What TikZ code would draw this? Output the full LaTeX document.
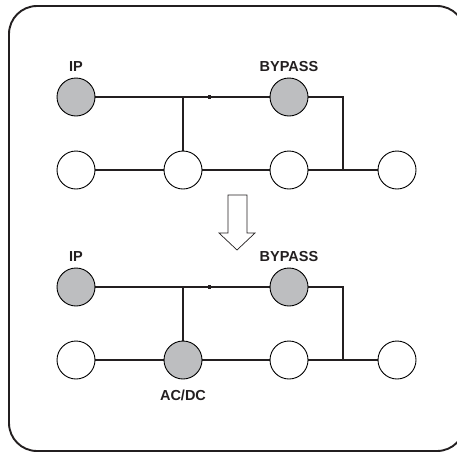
\documentclass[tikz,border=0pt]{standalone}
\usepackage{fontspec}
\setmainfont{Liberation Sans}
\begin{document}
\begin{tikzpicture}[x=1pt,y=-1pt,
  dev/.style={circle,draw=black,line width=0.9pt,minimum size=38pt,inner sep=0pt},
  on/.style={dev,fill=gray0},
  off/.style={dev,fill=white},
  wire/.style={line width=2.6pt,draw=wirecol},
  lbl/.style={font=\fontsize{14.5}{16}\selectfont\bfseries,text=labelcol,inner sep=0pt}]
\definecolor{gray0}{HTML}{BDBEC0}
\definecolor{wirecol}{HTML}{231F20}
\definecolor{labelcol}{HTML}{231F20}
\useasboundingbox (0,0) rectangle (457,453);
\begin{scope}
\clip (0,0) rectangle (457,453);
\draw[line width=1.9pt,draw=wirecol,rounded corners=28pt] (9,6) rectangle (465,451);
\end{scope}
% top diagram
\coordinate (j1) at (183,97);
\coordinate (j2) at (343,97);
\coordinate (j3) at (343,170);
\draw[wire] (76,97) -- (289,97);
\draw[wire] (289,97) -- (j2) -- (j3);
\draw[wire] (76,170) -- (397,170);
\draw[wire] (j1) -- (183,170);
\fill[wirecol] (207.5,95.2) rectangle (211,98.8);
\node[on] (ip1) at (76,97) {};
\node[on] (by1) at (289,97) {};
\node[off] (a1) at (76,170) {};
\node[off] (b1) at (183,170) {};
\node[off] (c1) at (289,170) {};
\node[off] (d1) at (397,170) {};
\node[lbl] (lip1) at (76,67) {IP};
\node[lbl] (lby1) at (289,67) {BYPASS};
% arrow
\draw[line width=0.7pt,draw=wirecol,fill=white,line join=miter]
  (228,195) -- (247,195) -- (247,233) -- (255,233) -- (237,250) -- (219,233) -- (228,233) -- cycle;
% bottom diagram
\coordinate (k1) at (183,287);
\coordinate (k2) at (343,287);
\coordinate (k3) at (343,360);
\draw[wire] (76,287) -- (289,287);
\draw[wire] (289,287) -- (k2) -- (k3);
\draw[wire] (76,360) -- (397,360);
\draw[wire] (k1) -- (183,360);
\fill[wirecol] (207.5,285.2) rectangle (211,288.8);
\node[on] (ip2) at (76,287) {};
\node[on] (by2) at (289,287) {};
\node[off] (a2) at (76,360) {};
\node[on] (b2) at (183,360) {};
\node[off] (c2) at (289,360) {};
\node[off] (d2) at (397,360) {};
\node[lbl] (lip2) at (76,257) {IP};
\node[lbl] (lby2) at (289,257) {BYPASS};
\node[lbl] (lac) at (183,395) {AC/DC};
\end{tikzpicture}
\end{document}
